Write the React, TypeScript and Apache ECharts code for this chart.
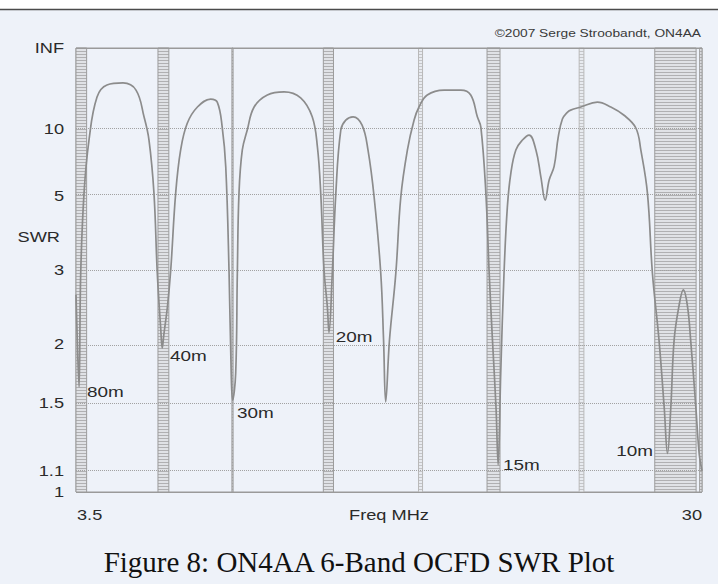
import React, { useEffect, useRef } from "react";
import * as echarts from "echarts";

// Frequency (MHz) and SWR
const freqs = [3.5, 3.58, 3.63, 3.7, 3.84, 4.05, 4.39, 4.81, 5.49, 6.04, 6.38, 6.59, 6.8, 6.94, 7.09, 7.15, 7.22, 7.37, 7.51, 7.72, 7.93, 8.21, 8.64, 9.2, 9.48, 9.69, 9.84, 9.98, 10.07, 10.13, 10.26, 10.33, 10.4, 10.54, 10.75, 11.04, 11.6, 12.31, 13.01, 13.5, 13.72, 13.86, 14.0, 14.14, 14.21, 14.35, 14.5, 14.71, 14.92, 15.23, 15.61, 15.86, 16.12, 16.4, 16.52, 16.61, 16.77, 17.04, 17.25, 17.53, 17.81, 18.02, 18.37, 19.08, 19.79, 20.21, 20.49, 20.64, 20.85, 20.99, 21.13, 21.28, 21.37, 21.48, 21.62, 21.76, 21.91, 22.12, 22.4, 22.68, 22.97, 23.18, 23.36, 23.53, 23.74, 23.91, 24.09, 24.3, 24.44, 24.87, 25.57, 26.14, 26.7, 27.2, 27.41, 27.69, 27.9, 28.18, 28.4, 28.54, 28.68, 28.82, 29.03, 29.21, 29.38, 29.52, 29.74, 29.88, 30.0];
const swr = [2.6, 1.85, 1.62, 2.95, 5.12, 8.65, 17.1, 23.0, 24.4, 20.1, 11.9, 8.65, 5.12, 2.95, 2.15, 1.96, 2.1, 2.43, 3.0, 5.12, 7.71, 10.8, 14.05, 16.4, 15.4, 10.2, 6.46, 2.95, 1.73, 1.52, 1.73, 2.95, 5.12, 7.71, 9.83, 14.05, 17.9, 19.2, 16.8, 11.9, 7.97, 5.12, 3.0, 2.43, 2.12, 2.95, 5.12, 9.83, 11.3, 11.9, 10.5, 7.71, 4.96, 2.95, 2.04, 1.51, 2.04, 2.95, 4.96, 7.71, 11.3, 14.05, 17.9, 20.1, 20.1, 17.9, 11.9, 10.2, 5.12, 2.95, 2.04, 1.47, 1.13, 1.73, 2.95, 4.58, 6.11, 7.71, 8.65, 9.2, 7.71, 5.88, 4.84, 5.73, 6.5, 8.9, 11.5, 12.8, 13.3, 14.05, 15.4, 14.05, 12.2, 10.1, 7.71, 5.12, 2.95, 2.04, 1.47, 1.19, 1.47, 2.04, 2.45, 2.67, 2.45, 2.04, 1.47, 1.19, 1.1];

// SWR scale ticks (axis is linear in reflection coefficient)
const swrTicks = [1, 1.1, 1.5, 2, 3, 5, 10, Infinity];
const swrTickLabels = ["1", "1.1", "1.5", "2", "3", "5", "10", "INF"];

// X-axis end labels
const xMin = 3.5;
const xMax = 30;
const xTickLabels = ["3.5", "30"];
const xName = "Freq MHz";
const yName = "SWR";

// Amateur bands (MHz) shown as hatched regions
const bandRanges = [[3.5, 3.95], [6.97, 7.43], [10.1, 10.15], [13.97, 14.4], [18.0, 18.17], [20.9, 21.45], [24.8, 25.0], [28.0, 29.75], [29.9, 30.0]];
const bandLight = [false, false, false, false, true, false, true, false, false];

// Band labels
const bandLabels = ["80m", "40m", "30m", "20m", "15m", "10m"];
const bandLabelFreq = [3.97, 7.48, 10.32, 14.5, 21.58, 27.93];
const bandLabelSwr = [1.58, 1.88, 1.43, 2.07, 1.13, 1.2];
const bandLabelSide = ["left", "left", "left", "left", "left", "right"];

const copyright = "©2007 Serge Stroobandt, ON4AA";
const caption = "Figure 8: ON4AA 6-Band OCFD SWR Plot";

const toRho = (s: number) => (isFinite(s) ? (s - 1) / (s + 1) : 1);

function makeHatch(dark: string, light: string) {
  const c = document.createElement("canvas");
  c.width = 4;
  c.height = 3;
  const ctx = c.getContext("2d")!;
  ctx.fillStyle = light;
  ctx.fillRect(0, 0, 4, 3);
  ctx.fillStyle = dark;
  ctx.fillRect(0, 0, 4, 1);
  return c;
}

export default function App() {
  const ref = useRef<HTMLDivElement>(null);
  useEffect(() => {
    if (!ref.current) return;
    const chart = echarts.init(ref.current, undefined, { renderer: "svg" });
    const font = "'Liberation Sans', Arial, sans-serif";
    const hatchDark = makeHatch("#b0b0b2", "#e0e2e6");
    const hatchLight = makeHatch("#c4c5c8", "#e8ebf0");
    const textColor = "#2a2a2a";
    const sx = 1.3;

    const option: any = {
      animation: false,
      backgroundColor: "#eef2f9",
      grid: { left: 76, right: 16, top: 48, bottom: 92, show: true, borderColor: "#9a9a9a", borderWidth: 1 },
      xAxis: {
        type: "value",
        min: xMin,
        max: xMax,
        axisLine: { show: false },
        axisTick: { show: false },
        splitLine: { show: false },
        axisLabel: { show: false },
      },
      yAxis: {
        type: "value",
        min: 0,
        max: 1,
        axisLine: { show: false },
        axisTick: { show: false },
        splitLine: { show: false },
        axisLabel: { show: false },
      },
      series: [
        {
          type: "line",
          data: freqs.map((f, i) => [f, toRho(swr[i])]),
          symbol: "none",
          smooth: 0.4,
          lineStyle: { color: "#8c8c8c", width: 1.7 },
          z: 5,
          markArea: {
            silent: true,
            data: bandRanges.map((r, i) => [
              {
                xAxis: r[0],
                itemStyle: {
                  color: { image: bandLight[i] ? hatchLight : hatchDark, repeat: "repeat" },
                  borderColor: bandLight[i] ? "#b8b8b8" : "#9c9c9c",
                  borderWidth: 1,
                },
              },
              { xAxis: r[1] },
            ]),
          },
          markLine: {
            silent: true,
            symbol: "none",
            label: { show: false },
            data: swrTicks.map((t, i) => ({
              yAxis: toRho(t),
              lineStyle: {
                color: i === 0 || i === swrTicks.length - 1 ? "#9a9a9a" : "#a2a2a2",
                type: i === 0 || i === swrTicks.length - 1 ? "solid" : "dotted",
                width: 1,
              },
            })),
          },
        },
      ],
    };
    chart.setOption(option);

    const px = (x: number, y: number) => chart.convertToPixel({ gridIndex: 0 }, [x, y]) as number[];
    const txt = (id: string, text: string, x: number, y: number, align: string, vAlign: string, size: number, scale = sx, color = textColor) => ({
      id,
      type: "text",
      x,
      y,
      scaleX: scale,
      silent: true,
      style: { text, font: `${size}px ${font}`, fill: color, textAlign: align, textVerticalAlign: vAlign },
    });

    const graphics: any[] = [
      { id: "topWhite", type: "rect", shape: { x: 0, y: 0, width: 718, height: 9 }, style: { fill: "#ffffff" } },
      { id: "topLine", type: "line", shape: { x1: 0, y1: 9.5, x2: 718, y2: 9.5 }, style: { stroke: "#4a4a4a", lineWidth: 1.5 } },
    ];
    swrTicks.forEach((t, i) => {
      const p = px(xMin, toRho(t));
      graphics.push(txt("yl" + i, swrTickLabels[i], p[0] - 12, p[1], "right", "middle", 14));
    });
    bandLabels.forEach((b, i) => {
      const p = px(bandLabelFreq[i], toRho(bandLabelSwr[i]));
      graphics.push(txt("bl" + i, b, p[0], p[1], bandLabelSide[i], "middle", 14, 1.35));
    });
    const pl = px(xMin, 0);
    const pr = px(xMax, 0);
    graphics.push(txt("x0", xTickLabels[0], pl[0] + 1, pl[1] + 16, "left", "top", 14));
    graphics.push(txt("x1", xTickLabels[1], pr[0], pl[1] + 16, "right", "top", 14));
    graphics.push(txt("xn", xName, (pl[0] + pr[0]) / 2, pl[1] + 16, "center", "top", 14));
    graphics.push(txt("yn", yName, 60, 237, "right", "middle", 14));
    graphics.push(txt("copy", copyright, 701, 33, "right", "middle", 11, 1.25, "#3a3a3a"));
    graphics.push({
      id: "caption",
      type: "text",
      x: 359,
      y: 562,
      silent: true,
      style: { text: caption, font: `29px 'Liberation Serif', 'Times New Roman', serif`, fill: "#111", textAlign: "center", textVerticalAlign: "middle" },
    });
    chart.setOption({ graphic: graphics });
    return () => chart.dispose();
  }, []);
  return <div ref={ref} style={{ position: "fixed", left: 0, top: 0, width: 718, height: 584 }} />;
}
